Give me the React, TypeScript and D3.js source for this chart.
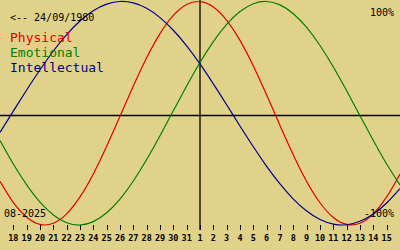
import React from "react";
import * as d3 from "d3";

const birthLabel = "<-- 24/09/1980";
const monthLabel = "08-2025";
const seriesNames = ["Physical", "Emotional", "Intellectual"];
const seriesColors = ["#e00000", "#008000", "#000090"];

// day slots: index 0 = 17 Aug ... index 30 = 16 Sep
const dayLabels = [
  "17", "18", "19", "20", "21", "22", "23", "24", "25", "26", "27", "28", "29", "30", "31",
  "1", "2", "3", "4", "5", "6", "7", "8", "9", "10", "11", "12", "13", "14", "15", "16",
];

const physical = [
  -0.61, -0.8, -0.93, -0.995, -0.984, -0.9, -0.749, -0.543, -0.296, -0.027, 0.243, 0.496, 0.712,
  0.875, 0.973, 0.999, 0.951, 0.832, 0.652, 0.423, 0.163, -0.109, -0.373, -0.61, -0.801, -0.933,
  -0.995, -0.984, -0.9, -0.749, -0.543,
];
const emotional = [
  -0.244, -0.454, -0.641, -0.796, -0.91, -0.98, -1.0, -0.97, -0.891, -0.768, -0.606, -0.414,
  -0.201, 0.022, 0.244, 0.454, 0.641, 0.795, 0.91, 0.98, 1.0, 0.97, 0.891, 0.768, 0.606, 0.414,
  0.201, -0.022, -0.244, -0.454, -0.641,
];
const intellectual = [
  -0.171, 0.019, 0.208, 0.389, 0.557, 0.704, 0.826, 0.917, 0.976, 1.0, 0.987, 0.939, 0.856, 0.743,
  0.603, 0.441, 0.263, 0.076, -0.114, -0.3, -0.475, -0.633, -0.768, -0.875, -0.951, -0.992,
  -0.998, -0.967, -0.902, -0.803, -0.675,
];

const W = 400;
const H = 250;
const BG = "#e1d28a";
const MONO = "'DejaVu Sans Mono', 'Liberation Mono', monospace";

export default function App() {
  const x = d3.scaleLinear().domain([0, dayLabels.length - 1]).range([0, W]);
  const y = d3.scaleLinear().domain([-1, 1]).range([225, 1.5]);
  const line = d3
    .line<number>()
    .x((_, i) => x(i))
    .y((d) => y(d))
    .curve(d3.curveNatural);
  const allSeries = [physical, emotional, intellectual];
  const centerIdx = dayLabels.indexOf("1");
  const axisY = 115.5;

  return (
    <svg
      width={W}
      height={H}
      style={{ position: "absolute", left: 0, top: 0, display: "block" }}
    >
      <rect x={0} y={0} width={W} height={H} fill={BG} />
      {/* axes */}
      <line x1={0} x2={W} y1={axisY} y2={axisY} stroke="#000" strokeWidth={1.3} />
      <line
        x1={x(centerIdx)}
        x2={x(centerIdx)}
        y1={0}
        y2={230}
        stroke="#000"
        strokeWidth={1.3}
      />
      {/* ticks */}
      {dayLabels.map((lab, i) =>
        i === 0 || i === dayLabels.length - 1 ? null : (
          <g key={i}>
            <line
              x1={Math.round(x(i)) + 0.5}
              x2={Math.round(x(i)) + 0.5}
              y1={225}
              y2={230}
              stroke="#000"
              strokeWidth={1}
            />
            <text
              x={x(i)}
              y={241}
              textAnchor="middle"
              fontFamily={MONO}
              fontSize={8.5}
              fontWeight="bold"
              fill="#000"
            >
              {lab}
            </text>
          </g>
        )
      )}
      {/* curves */}
      {allSeries.map((s, i) => (
        <path
          key={i}
          d={line(s) || ""}
          fill="none"
          stroke={seriesColors[i]}
          strokeWidth={1.2}
        />
      ))}
      {/* texts */}
      <text x={10} y={20.5} fontFamily={MONO} fontSize={10} fill="#000">
        {birthLabel}
      </text>
      {seriesNames.map((n, i) => (
        <text
          key={n}
          x={10}
          y={41.5 + i * 15}
          fontFamily={MONO}
          fontSize={13}
          fill={seriesColors[i]}
        >
          {n}
        </text>
      ))}
      <text x={394} y={16} textAnchor="end" fontFamily={MONO} fontSize={10} fill="#000">
        100%
      </text>
      <text x={394} y={216.5} textAnchor="end" fontFamily={MONO} fontSize={10} fill="#000">
        -100%
      </text>
      <text x={4} y={216.5} fontFamily={MONO} fontSize={10} fill="#000">
        {monthLabel}
      </text>
    </svg>
  );
}
